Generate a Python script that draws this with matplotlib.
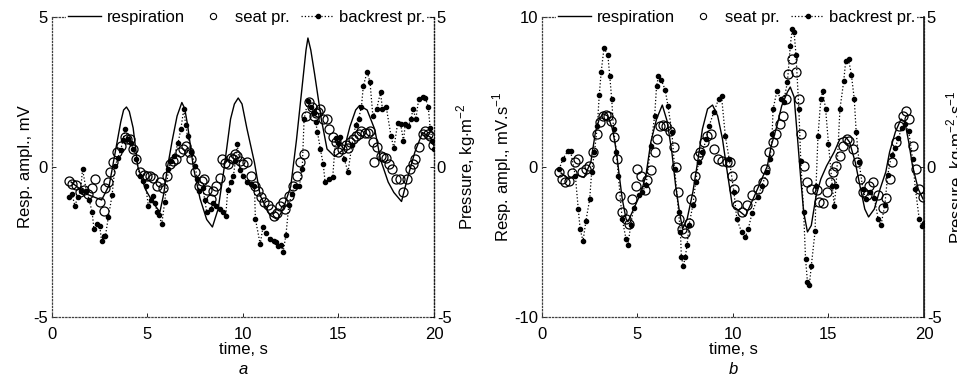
import matplotlib
matplotlib.use('Agg')
import matplotlib.pyplot as plt
from matplotlib.lines import Line2D

plt.rcParams['font.family'] = ['Liberation Sans', 'DejaVu Sans']
plt.rcParams['mathtext.fontset'] = 'custom'
plt.rcParams['mathtext.rm'] = 'Liberation Sans'
plt.rcParams['axes.unicode_minus'] = False

# ---- panel a: respiration amplitude (mV) and pressures (kg/m^2) ----
t_resp_a = [1.0, 1.4, 1.8, 2.2, 2.6, 3.0, 3.2, 3.4, 3.6, 3.75, 3.9, 4.05, 4.25, 4.5, 4.9, 5.3, 5.65, 5.85,
            6.05, 6.3, 6.55, 6.8, 6.95, 7.1, 7.4, 7.75, 8.1, 8.4, 8.7, 9.0, 9.35, 9.55, 9.75, 9.95, 10.2,
            10.6, 10.9, 11.4, 11.8, 12.1, 12.5, 12.8, 13.1, 13.3, 13.4, 13.55, 13.75, 14.1, 14.4, 14.8, 15.3,
            15.6, 15.9, 16.1, 16.5, 16.9, 17.2, 17.6, 17.9, 18.3, 18.6, 19.0, 19.4, 19.8, 20.0]
resp_a = [-0.5, -0.7, -0.9, -1.0, -1.1, -0.6, 0.1, 0.8, 1.5, 1.9, 2.0, 1.85, 1.3, 0.0, -0.75, -1.2, -1.5, -0.9,
          0.0, 0.9, 1.7, 2.15, 1.95, 1.4, 0.0, -1.05, -1.75, -2.0, -1.4, -0.1, 1.6, 2.1, 2.3, 2.1, 1.3,
          0.15, -0.95, -1.6, -1.75, -1.4, -0.65, 0.9, 2.7, 3.9, 4.3, 3.9, 3.1, 1.6, 0.6, 0.35, 0.6,
          1.35, 1.9, 2.05, 1.9, 1.25, 0.25, -0.5, -0.85, -1.15, -0.4, 0.5, 1.15, 1.0, 0.7]

t_seat_a = [0.9, 1.05, 1.25, 1.47, 1.7, 1.9, 2.1, 2.26, 2.5, 2.7, 2.8, 2.95, 3.05, 3.2, 3.4, 3.6, 3.83, 3.95,
            4.1, 4.26, 4.4, 4.6, 4.8, 4.97, 5.15, 5.3, 5.5, 5.65, 5.8, 6.0, 6.2, 6.35, 6.5, 6.7, 6.85, 7.0,
            7.2, 7.3, 7.5, 7.7, 7.85, 7.96, 8.1, 8.3, 8.45, 8.6, 8.8, 8.9, 9.05, 9.2, 9.35, 9.5, 9.6, 9.7,
            9.85, 10.0, 10.2, 10.4, 10.65, 10.8, 10.95, 11.1, 11.3, 11.45, 11.6, 11.8, 11.95, 12.1, 12.2,
            12.4, 12.6, 12.85, 13.0, 13.2, 13.3, 13.45, 13.6, 13.7, 13.8, 13.95, 14.05, 14.2, 14.4, 14.5,
            14.7, 14.85, 15.0, 15.2, 15.4, 15.5, 15.6, 15.75, 15.9, 16.05, 16.2, 16.4, 16.55, 16.65, 16.8,
            16.85, 17.0, 17.2, 17.35, 17.5, 17.65, 17.8, 18.0, 18.2, 18.4, 18.6, 18.75, 18.9, 19.0, 19.2,
            19.4, 19.55, 19.7, 19.8, 19.95]
seat_a = [-0.45, -0.55, -0.6, -0.83, -0.75, -0.9, -0.7, -0.4, -1.17, -1.47, -0.7, -0.5, -0.17, 0.17, 0.5, 0.7,
          1.0, 0.95, 0.93, 0.6, 0.27, -0.17, -0.25, -0.3, -0.3, -0.37, -0.63, -0.5, -0.7, -0.3, 0.1, 0.2,
          0.27, 0.5, 0.6, 0.7, 0.5, 0.27, -0.17, -0.63, -0.45, -0.4, -0.77, -1.07, -0.8, -0.63, -0.37, 0.27,
          0.15, 0.1, 0.3, 0.27, 0.45, 0.37, 0.2, 0.1, 0.17, -0.3, -0.63, -0.8, -1.0, -1.17, -1.27, -1.4,
          -1.63, -1.53, -1.3, -1.17, -1.4, -0.97, -0.63, -0.3, 0.17, 0.43, 1.7, 2.17, 2.0, 1.7, 1.8, 1.85,
          1.93, 1.6, 1.6, 1.27, 1.0, 0.83, 0.5, 0.6, 0.73, 0.65, 0.83, 0.95, 1.03, 1.1, 1.2, 1.13, 1.15,
          1.2, 0.83, 0.17, 0.67, 0.37, 0.35, 0.3, 0.1, -0.07, -0.4, -0.4, -0.83, -0.4, -0.07, 0.1, 0.27,
          0.67, 1.1, 1.2, 1.1, 1.03, 0.73]

t_back_a = [0.9, 1.05, 1.2, 1.35, 1.5, 1.6, 1.8, 1.95, 2.1, 2.2, 2.35, 2.5, 2.6, 2.7, 2.8, 2.95, 3.15, 3.3,
            3.45, 3.6, 3.72, 3.83, 4.0, 4.15, 4.26, 4.4, 4.6, 4.75, 4.9, 5.05, 5.2, 5.3, 5.4, 5.5, 5.6, 5.75,
            5.9, 6.1, 6.25, 6.4, 6.6, 6.75, 6.9, 7.0, 7.1, 7.3, 7.5, 7.6, 7.7, 7.9, 8.0, 8.1, 8.3, 8.45,
            8.6, 8.8, 8.95, 9.1, 9.2, 9.35, 9.5, 9.6, 9.7, 9.85, 10.0, 10.2, 10.4, 10.6, 10.65, 10.9, 11.05,
            11.2, 11.4, 11.6, 11.75, 11.85, 12.0, 12.1, 12.25, 12.4, 12.55, 12.7, 12.95, 13.1, 13.2, 13.4,
            13.55, 13.7, 13.8, 13.9, 14.05, 14.2, 14.3, 14.5, 14.7, 14.85, 15.0, 15.1, 15.3, 15.5, 15.7,
            15.9, 16.05, 16.2, 16.3, 16.5, 16.65, 16.8, 17.0, 17.2, 17.3, 17.5, 17.75, 17.9, 18.1, 18.25,
            18.4, 18.5, 18.65, 18.8, 18.9, 19.05, 19.2, 19.4, 19.55, 19.7, 19.8, 19.9, 20.0]
back_a = [-1.0, -0.9, -1.3, -1.0, -0.8, -0.07, -0.8, -1.1, -1.5, -2.07, -1.9, -1.97, -2.47, -2.3, -2.3, -1.67,
          -0.93, 0.03, 0.3, 0.57, 0.9, 1.27, 0.93, 0.8, 0.6, 0.27, -0.3, -0.45, -0.63, -1.3, -1.1, -0.97,
          -1.2, -1.5, -1.6, -1.9, -1.17, -0.07, 0.2, 0.37, 0.8, 1.27, 1.93, 1.4, 1.03, 0.5, 0.03, -0.4,
          -0.8, -0.7, -1.1, -1.5, -1.4, -1.2, -1.3, -1.4, -1.5, -1.63, -0.77, -0.5, -0.3, 0.2, 0.77, -0.1,
          -0.3, -0.5, -0.55, -0.63, -1.73, -2.57, -2.0, -2.2, -2.4, -2.47, -2.5, -2.63, -2.6, -2.83, -2.27,
          -1.27, -0.9, -0.63, -0.63, -0.07, 1.6, 2.2, 2.0, 1.8, 1.5, 1.17, 0.6, 0.1, -0.5, -0.4, -0.33,
          0.97, 0.8, 1.0, 0.27, -0.17, 0.73, 1.4, 1.6, 2.0, 2.7, 3.17, 2.83, 1.7, 1.93, 2.5, 1.93, 2.0,
          1.03, 0.63, 1.47, 1.45, 0.87, 1.43, 1.37, 1.6, 1.93, 1.6, 2.27, 2.33, 2.3, 2.0, 1.3, 0.87, 0.6]

# ---- panel b: derivatives ----
t_resp_b = [1.0, 1.4, 1.8, 2.2, 2.56, 2.8, 3.0, 3.2, 3.45, 3.7, 3.9, 4.05, 4.2, 4.4, 4.5, 4.8, 5.2, 5.45, 5.7,
            6.0, 6.3, 6.55, 6.8, 7.0, 7.2, 7.36, 7.6, 7.9, 8.15, 8.4, 8.67, 8.93, 9.2, 9.45, 9.7, 9.97,
            10.2, 10.65, 11.1, 11.4, 11.8, 12.0, 12.3, 12.55, 12.85, 13.0, 13.2, 13.37, 13.55, 13.7, 13.9,
            14.1, 14.35, 14.6, 14.9, 15.3, 15.6, 15.9, 16.1, 16.4, 16.65, 16.9, 17.1, 17.4, 17.7, 18.0,
            18.2, 18.5, 18.8, 19.0, 19.2, 19.4, 19.7, 19.95]
resp_b = [-0.4, -0.8, -0.5, -0.7, 0.33, 2.33, 3.2, 3.55, 3.4, 2.5, 1.0, -0.6, -2.1, -3.45, -3.65, -2.8, -1.67,
          -0.5, 1.67, 3.2, 4.13, 3.07, 1.0, -1.27, -3.0, -4.13, -3.47, -1.67, 0.33, 2.53, 3.87, 4.13, 3.4,
          1.87, -0.33, -2.6, -2.8, -3.27, -2.0, -1.13, 0.07, 1.4, 2.73, 4.07, 5.0, 5.33, 4.67, 2.07, -0.8,
          -3.0, -4.33, -3.9, -1.93, -0.8, 0.07, 1.0, 1.87, 2.0, 1.67, 0.33, -1.27, -2.8, -3.33, -2.8, -1.47,
          -0.33, 1.0, 2.33, 3.2, 3.0, 1.67, 0.07, -1.47, -2.13]

t_seat_b = [0.9, 1.05, 1.2, 1.4, 1.55, 1.75, 1.9, 2.1, 2.3, 2.45, 2.65, 2.9, 3.05, 3.2, 3.35, 3.45, 3.6, 3.75,
            3.95, 4.1, 4.2, 4.4, 4.55, 4.7, 4.9, 5.0, 5.2, 5.4, 5.5, 5.7, 5.9, 6.0, 6.2, 6.35, 6.5, 6.7,
            6.9, 7.0, 7.1, 7.2, 7.35, 7.5, 7.7, 7.8, 8.0, 8.15, 8.3, 8.5, 8.65, 8.85, 9.0, 9.2, 9.45, 9.7,
            9.87, 9.97, 10.05, 10.2, 10.45, 10.75, 11.0, 11.3, 11.55, 11.7, 11.9, 12.1, 12.25, 12.45, 12.6,
            12.8, 12.9, 13.1, 13.3, 13.45, 13.55, 13.7, 13.9, 14.1, 14.4, 14.5, 14.7, 14.9, 15.1, 15.25,
            15.4, 15.6, 15.75, 15.95, 16.1, 16.3, 16.5, 16.65, 16.8, 17.0, 17.1, 17.35, 17.6, 17.85, 18.0,
            18.2, 18.35, 18.55, 18.7, 18.9, 19.05, 19.2, 19.4, 19.6, 19.75, 19.95]
seat_b = [-0.17, -0.4, -0.5, -0.47, -0.2, 0.17, 0.27, -0.17, -0.07, 0.03, 0.5, 1.1, 1.5, 1.7, 1.75, 1.7, 1.53,
          1.0, 0.27, -0.97, -1.5, -1.73, -1.9, -1.07, -0.63, -0.07, -0.3, -0.77, -0.43, -0.1, 0.5, 0.93,
          1.37, 1.4, 1.37, 1.2, 0.67, 0.0, -0.83, -1.73, -2.07, -2.2, -1.87, -1.07, -0.3, 0.37, 0.5, 0.83,
          1.03, 1.1, 0.6, 0.27, 0.2, 0.17, 0.17, -0.3, -0.73, -1.27, -1.5, -1.27, -0.93, -0.73, -0.5, -0.07,
          0.5, 0.83, 1.1, 1.43, 1.7, 2.27, 3.1, 3.6, 3.17, 2.27, 1.1, 0.03, -0.5, -0.73, -0.77, -1.17, -1.2,
          -0.83, -0.5, -0.17, 0.03, 0.37, 0.7, 0.93, 0.87, 0.6, 0.17, -0.4, -0.83, -0.93, -0.63, -0.5,
          -0.93, -1.37, -1.03, -0.4, 0.17, 0.83, 1.37, 1.7, 1.87, 1.6, 0.7, -0.07, -0.73, -1.0]

t_back_b = [0.9, 1.1, 1.35, 1.5, 1.75, 1.9, 2.0, 2.15, 2.3, 2.5, 2.6, 2.75, 2.9, 3.0, 3.1, 3.25, 3.45, 3.55,
            3.65, 3.75, 3.9, 4.0, 4.2, 4.4, 4.5, 4.65, 4.8, 5.1, 5.25, 5.45, 5.7, 5.9, 6.0, 6.1, 6.25, 6.45,
            6.6, 6.8, 6.95, 7.15, 7.25, 7.3, 7.4, 7.5, 7.6, 7.7, 7.9, 8.05, 8.2, 8.4, 8.6, 8.75, 9.0, 9.25,
            9.4, 9.6, 9.8, 10.05, 10.2, 10.45, 10.65, 10.8, 11.0, 11.3, 11.5, 11.8, 11.95, 12.05, 12.1, 12.3,
            12.5, 12.65, 12.85, 13.0, 13.1, 13.2, 13.3, 13.45, 13.55, 13.7, 13.8, 13.9, 14.0, 14.1, 14.3,
            14.35, 14.45, 14.6, 14.7, 14.85, 15.0, 15.2, 15.3, 15.4, 15.6, 15.8, 15.9, 16.05, 16.2, 16.35,
            16.45, 16.6, 16.8, 16.95, 17.2, 17.4, 17.6, 17.75, 17.95, 18.1, 18.3, 18.5, 18.65, 18.85, 19.0,
            19.2, 19.4, 19.55, 19.75, 19.9, 20.0]
back_b = [-0.07, 0.27, 0.53, 0.53, -0.3, -1.4, -2.07, -2.47, -1.8, -1.07, -0.17, 0.5, 1.37, 2.4, 3.17, 3.97,
          3.73, 3.03, 2.27, 1.27, 0.5, -0.3, -1.73, -2.4, -2.6, -1.93, -1.37, -0.93, -0.83, -0.6, 0.7, 1.7,
          2.7, 3.03, 2.9, 2.57, 2.03, 1.17, -0.07, -1.5, -2.17, -3.0, -3.3, -3.0, -2.6, -1.93, -1.27, -0.5,
          0.17, 0.5, 0.93, 1.37, 1.83, 2.27, 2.37, 1.03, 0.27, -0.83, -1.73, -2.17, -2.33, -2.07, -1.53,
          -1.0, -0.63, -0.17, 0.27, 1.1, 1.93, 2.53, 2.27, 2.17, 2.83, 4.03, 4.6, 4.5, 3.73, 1.93, 0.2,
          -1.5, -3.07, -3.83, -3.93, -3.3, -2.13, -0.63, 1.03, 2.27, 2.53, 1.93, 0.77, -0.63, -1.3, -0.63,
          1.93, 2.87, 3.53, 3.6, 3.07, 2.27, 1.17, 0.17, -0.73, -1.07, -0.83, -1.03, -1.73, -1.93, -1.27,
          -0.27, 0.4, 0.63, 0.97, 1.3, 1.43, 1.2, 0.27, -0.73, -1.73, -1.97, -1.87]

fs = 12

fig, ax = plt.subplots(1, 2, figsize=(9.57, 3.79), dpi=100, facecolor='white')
fig.subplots_adjust(left=0.0543, right=0.9655, bottom=0.1636, top=0.9551, wspace=0.2826)


def style_axes(a, a2, right_solid=False):
    for s in ['top', 'left', 'bottom', 'right']:
        a.spines[s].set_linestyle(':')
        a.spines[s].set_linewidth(0.9)
        a.spines[s].set_color('0.25')
    for s in ['top', 'left', 'bottom']:
        a2.spines[s].set_visible(False)
    a2.spines['right'].set_color('0.1')
    if right_solid:
        a2.spines['right'].set_linestyle('-')
        a2.spines['right'].set_linewidth(1.2)
    else:
        a2.spines['right'].set_linestyle(':')
        a2.spines['right'].set_linewidth(0.9)
    a.tick_params(direction='in', length=3, width=0.6, labelsize=fs, pad=3)
    a.tick_params(axis='x', pad=7)
    a2.tick_params(direction='in', length=3, width=0.6, labelsize=fs, pad=2)


def draw_panel(a, t_r, r, t_s, s, t_b, b, ylim, ylabel, y2label, tag):
    a2 = a.twinx()
    a.plot(t_r, r, '-', c='k', lw=1.0, zorder=3)
    a2.plot(t_b, b, ':', c='k', lw=0.9, marker='o', ms=3, mfc='k', mec='k', zorder=4)
    a2.plot(t_s, s, 'o', ms=6.5, mfc='none', mec='k', mew=0.9, zorder=5)

    a.set_xlim(0, 20)
    a.set_ylim(-ylim, ylim)
    a.set_yticks([-ylim, 0, ylim])
    a.set_xticks([0, 5, 10, 15, 20])
    a2.set_ylim(-5, 5)
    a2.set_yticks([-5, 0, 5])

    a.set_xlabel('time, s', fontsize=fs, labelpad=0)
    a.set_ylabel(ylabel, fontsize=fs, labelpad=0)
    a2.set_ylabel(y2label, fontsize=fs, labelpad=2)

    handles = [Line2D([], [], c='k', lw=1.0),
               Line2D([], [], ls='none', marker='o', ms=4.5, mfc='none', mec='k', mew=0.8),
               Line2D([], [], c='k', ls=':', lw=0.9, marker='o', ms=3)]
    leg = a2.legend(handles, ['respiration', 'seat pr.', 'backrest pr.'], ncol=3, loc='center',
                    bbox_to_anchor=(0.51, 1.0), frameon=True, fancybox=False, fontsize=fs, numpoints=1,
                    handlelength=2.0, handletextpad=0.3, columnspacing=0.7, borderpad=0.1,
                    borderaxespad=0)
    leg.get_frame().set_facecolor('white')
    leg.get_frame().set_edgecolor('none')
    leg.get_frame().set_alpha(1)
    a.text(0.5, -0.175, tag, transform=a.transAxes, ha='center', va='center', fontsize=fs, style='italic')
    return a2


a2 = draw_panel(ax[0], t_resp_a, resp_a, t_seat_a, seat_a, t_back_a, back_a, 5,
                'Resp. ampl., mV', r'Pressure, kg$\cdot$m$^{-2}$', 'a')
style_axes(ax[0], a2)

b2 = draw_panel(ax[1], t_resp_b, resp_b, t_seat_b, seat_b, t_back_b, back_b, 10,
                r'Resp. ampl., mV.s$^{-1}$', r'Pressure, kg$\cdot$m$^{-2}$$\cdot$s$^{-1}$', 'b')
style_axes(ax[1], b2, right_solid=True)

plt.savefig('out.png', dpi=100, facecolor='white')
